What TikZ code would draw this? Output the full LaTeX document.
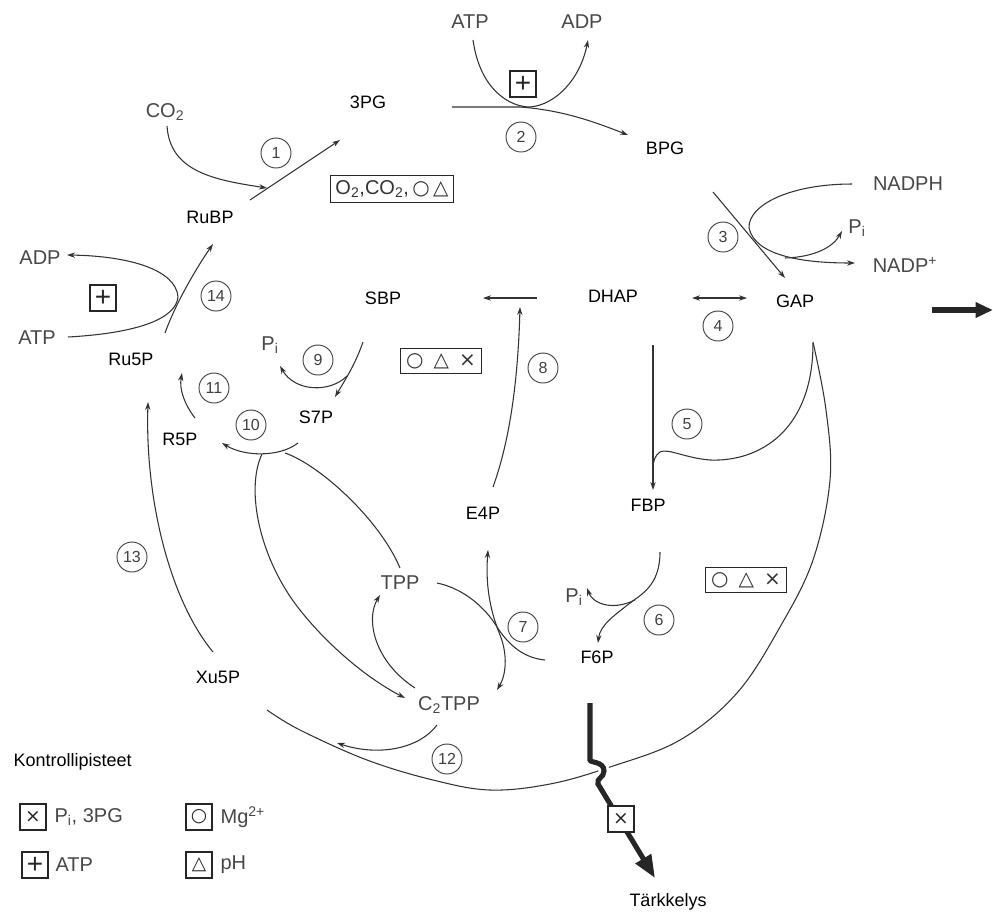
\documentclass[tikz,border=0pt]{standalone}
\usepackage{fontspec}
\setmainfont{Liberation Sans}
\newfontfamily\symf{DejaVu Sans}
\usetikzlibrary{arrows.meta}
\begin{document}
\begin{tikzpicture}[x=0.75pt,y=-0.75pt,
  cmp/.style={font=\fontsize{13.5}{15}\selectfont, inner sep=1pt},
  ext/.style={font=\fontsize{15}{17}\selectfont, text=black!72, inner sep=1pt},
  num/.style={circle, draw=black!75, line width=0.7pt, minimum size=22.5pt, inner sep=0pt, font=\fontsize{12}{12}\selectfont, text=black!75},
  ctl/.style={draw=black!85, line width=0.9pt, inner xsep=4pt, inner ysep=3.5pt, font=\fontsize{15}{16}\selectfont, text=black!80},
  sq/.style={draw=black!85, line width=0.9pt, minimum size=19.5pt, inner sep=0pt, font=\fontsize{14}{14}\selectfont, text=black!85},
  pls/.style={sq, font=\fontsize{21}{21}\selectfont},
  ln/.style={draw=black!80, line width=0.8pt},
  ar/.style={ln, -{Stealth[length=6pt,width=4pt]}},
  dar/.style={ln, {Stealth[length=6pt,width=4pt]}-{Stealth[length=6pt,width=4pt]}},
  thk/.style={draw=black!85, line width=3.8pt, -{Triangle[length=17pt,width=13pt]}},
]
\useasboundingbox (0,0) rectangle (993,915);

% compounds
\node[ext] (atpT) at (470,22) {ATP};
\node[ext] (adpT) at (582,22) {ADP};
\node[ext] (co2) at (165,112) {CO\textsubscript{2}};
\node[cmp] (pg3) at (368,102) {3PG};
\node[cmp] (bpg) at (665,148) {BPG};
\node[ext] (nadph) at (908,184) {NADPH};
\node[ext] (pi3) at (857,228) {P\textsubscript{i}};
\node[ext] (nadp) at (905,265) {NADP\textsuperscript{+}};
\node[cmp] (gap) at (795,301) {GAP};
\node[cmp] (dhap) at (613,296) {DHAP};
\node[cmp] (sbp) at (383,298) {SBP};
\node[cmp] (rubp) at (210,217) {RuBP};
\node[ext] (adpL) at (40,258) {ADP};
\node[ext] (atpL) at (37,338) {ATP};
\node[cmp] (ru5p) at (131,359) {Ru5P};
\node[cmp] (r5p) at (180,439) {R5P};
\node[cmp] (s7p) at (316,417) {S7P};
\node[ext] (pi9) at (270,345) {P\textsubscript{i}};
\node[cmp] (e4p) at (483,513) {E4P};
\node[cmp] (fbp) at (648,505) {FBP};
\node[ext] (pi6) at (574,597) {P\textsubscript{i}};
\node[cmp] (f6p) at (597,657) {F6P};
\node[ext] (tpp) at (400,583) {TPP};
\node[ext] (c2tpp) at (449,705) {C\textsubscript{2}TPP};
\node[cmp] (xu5p) at (218,677) {Xu5P};
\node[cmp] (tark) at (668,902) {Tärkkelys};
\node[cmp,anchor=west] (kontr) at (12,762) {Kontrollipisteet};

% legend
\node[sq] (lx) at (33,817) {\symf ×};
\node[ext,anchor=west] (lxt) at (53,817) {P\textsubscript{i}, 3PG};
\node[pls] (lp) at (35,865) {+};
\node[ext,anchor=west] (lpt) at (54,865) {ATP};
\node[sq] (lo) at (199,817) {\symf ○};
\node[ext,anchor=west] (lot) at (219,817) {Mg\textsuperscript{2+}};
\node[sq] (lt) at (199,865) {\symf △};
\node[ext,anchor=west] (ltt) at (219,865) {pH};

% circled numbers
\node[num] (n1) at (276,153) {1};
\node[num] (n2) at (521,137) {2};
\node[num] (n3) at (723,237) {3};
\node[num] (n4) at (718,326) {4};
\node[num] (n5) at (687,424) {5};
\node[num] (n6) at (659,620) {6};
\node[num] (n7) at (523,627) {7};
\node[num] (n8) at (543,368) {8};
\node[num] (n9) at (318,360) {9};
\node[num] (n10) at (251,425) {10};
\node[num] (n11) at (214,388) {11};
\node[num] (n12) at (447,759) {12};
\node[num] (n13) at (132,557) {13};
\node[num] (n14) at (216,296) {14};

% control boxes
\node[ctl] (c1) at (392,189) {O\textsubscript{2},CO\textsubscript{2},\,{\symf ○\,△}};
\node[ctl] (c9) at (441,361) {{\symf ○\enspace△\enspace×}};
\node[ctl] (c6) at (746,580) {{\symf ○\enspace△\enspace×}};
\node[pls] (p2) at (523,84) {+};
\node[pls] (p14) at (103,298) {+};

% reaction 1
\draw[ar] (250,200) -- (340,140);
\draw[ar] (167,126) .. controls (170,172) and (215,180) .. (267,188);
% reaction 2
\draw[ar] (452,107) -- (520,107) .. controls (560,110) and (590,120) .. (628,135);
\draw[ar] (473,40) .. controls (480,90) and (510,107) .. (530,107) .. controls (555,105) and (580,80) .. (588,40);
% reaction 3
\draw[ar] (713,192) -- (785,278);
\draw[ln] (852,184) .. controls (790,184) and (748,205) .. (749,228);
\draw[ar] (749,228) .. controls (755,255) and (800,263) .. (855,263);
\draw[ar] (785,258) .. controls (815,257) and (833,247) .. (842,231);
% reaction 4
\draw[dar] (692,298) -- (747,298);
% SBP aldolase
\draw[ar] (537,298) -- (483,298);
% reaction 8
\draw[ar] (493,487) .. controls (510,440) and (518,380) .. (520,307);
% reaction 5
\draw[ar] (653,345) -- (653,490);
\draw[ln] (813,343) .. controls (813,430) and (760,462) .. (710,460) .. controls (685,458) and (668,448) .. (660,452) .. controls (655,455) and (653,462) .. (653,468);
% big curve GAP -> Xu5P
\draw[ln] plot[smooth, tension=0.6] coordinates {(267,710) (300,730) (367,760) (433,780) (490,790) (550,784) (610,767) (680,740) (737,693) (780,627) (813,560) (830,480) (826,410) (813,342)};
% reaction 6
\draw[ar] (660,552) .. controls (660,585) and (642,594) .. (630,603) .. controls (615,615) and (600,625) .. (598,643);
\draw[ar] (635,600) .. controls (610,612) and (592,602) .. (587,588);
% reaction 7
\draw[ln] (437,583) .. controls (470,590) and (490,615) .. (497,627) .. controls (510,647) and (525,658) .. (545,660);
\draw[dar] (488,550) .. controls (485,590) and (492,615) .. (500,635) .. controls (508,655) and (506,675) .. (497,690);
% TPP <- C2TPP
\draw[ar] (415,688) .. controls (375,662) and (365,620) .. (380,595);
% reaction 10
\draw[ar] (298,443) .. controls (280,457) and (245,457) .. (222,443);
\draw[ar] (262,454) .. controls (245,490) and (260,560) .. (300,610) .. controls (330,648) and (370,680) .. (405,698);
\draw[ln] (285,453) .. controls (320,465) and (380,520) .. (400,568);
% reaction 9
\draw[ar] (363,342) .. controls (355,365) and (345,380) .. (335,397);
\draw[ar] (347,376) .. controls (330,393) and (295,392) .. (280,366);
% reaction 11
\draw[ar] (195,418) .. controls (185,405) and (179,390) .. (182,373);
% reaction 13
\draw[ar] (213,652) .. controls (170,600) and (145,500) .. (148,402);
% reaction 14
\draw[ar] (165,333) .. controls (175,305) and (195,270) .. (213,244);
\draw[ar] (68,337) .. controls (140,333) and (176,318) .. (178,297) .. controls (176,270) and (130,256) .. (67,255);
% reaction 12
\draw[ar] (437,725) .. controls (420,748) and (380,757) .. (337,743);

% starch exit
\draw[thk, preaction={draw=white, line width=8pt, -}] (590,703) -- (590,760) .. controls (590,763) and (604,761) .. (604,771) .. controls (604,778) and (596,778) .. (598,784) -- (655,878);
\node[sq, fill=white] (xs) at (621,819) {\symf ×};
% export arrow
\coordinate (ex1) at (932,310);
\coordinate (ex2) at (993,310);
\draw[thk, -{Triangle[length=13pt,width=11pt]}] (ex1) -- (ex2);
\end{tikzpicture}
\end{document}
